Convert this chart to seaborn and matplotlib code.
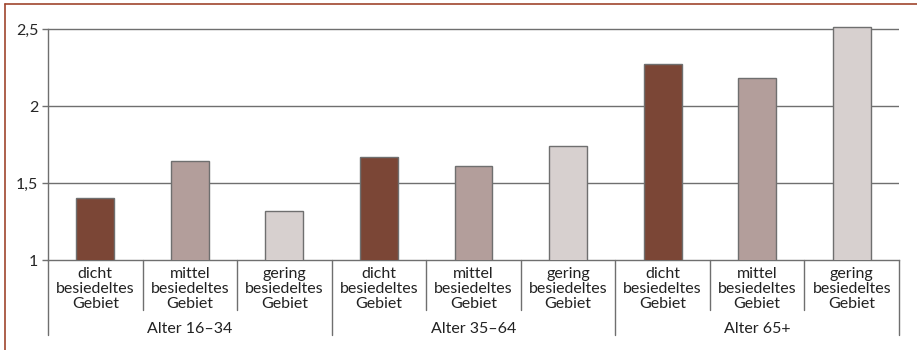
import matplotlib
matplotlib.use("Agg")
import matplotlib.pyplot as plt
import seaborn as sns
import pandas as pd
from matplotlib.lines import Line2D

# data
age_groups = ["Alter 16–34", "Alter 35–64", "Alter 65+"]
densities = ["dicht\nbesiedeltes\nGebiet", "mittel\nbesiedeltes\nGebiet", "gering\nbesiedeltes\nGebiet"]
values_16_34 = [1.40, 1.64, 1.32]
values_35_64 = [1.67, 1.61, 1.74]
values_65 = [2.27, 2.18, 2.51]
y_ticks = [1, 1.5, 2, 2.5]
y_tick_labels = ["1", "1,5", "2", "2,5"]
colors = ["#86402B", "#B79B97", "#D9CFCD"]

rows = []
for group, vals in zip(age_groups, [values_16_34, values_35_64, values_65]):
    for dens, v in zip(densities, vals):
        rows.append({"slot": f"{group} {dens}", "group": group, "density": dens, "value": v})
df = pd.DataFrame(rows)

sns.set_style("white")
plt.rcParams["font.family"] = ["Lato", "DejaVu Sans"]

W, H = 917, 350
y_top = 2.55
px_per_unit = (260 - 29) / 1.5
top_px = 260 - (y_top - 1) * px_per_unit
axes_h = 260 - top_px

fig = plt.figure(figsize=(9.17, 3.5), dpi=100)
ax = fig.add_axes([48 / W, 1 - 260 / H, (899 - 48) / W, axes_h / H])

sns.barplot(data=df, x="slot", y="value", hue="density", palette=colors,
            dodge=False, width=0.4, edgecolor="#6f6f6f", linewidth=1.0,
            legend=False, ax=ax, zorder=3)

ax.set_ylim(1, y_top)
ax.set_xlim(-0.5, len(df) - 0.5)
ax.set_yticks(y_ticks)
ax.set_yticklabels(y_tick_labels, fontsize=11.5)
ax.set_xticks([])
ax.set_xlabel("")
ax.set_ylabel("")
ax.tick_params(axis="y", length=4, width=1, color="#6f6f6f", pad=3, left=True)
for y in y_ticks[1:]:
    ax.axhline(y, color="#6f6f6f", lw=1.0, zorder=1)

for side in ["top", "right"]:
    ax.spines[side].set_visible(False)
ax.spines["left"].set_bounds(1, 2.5)
ax.spines["left"].set_color("#6f6f6f")
ax.spines["bottom"].set_color("#6f6f6f")
ax.spines["left"].set_linewidth(1.0)
ax.spines["bottom"].set_linewidth(1.0)

# category labels and separators below the axis (in pixel-based axes fractions)
n = len(df)
trans = ax.get_xaxis_transform()
def frac(px):
    return -(px - 260) / axes_h

for i, dens in enumerate(df["density"]):
    ax.text(i, frac(289), dens, transform=trans, ha="center", va="center",
            fontsize=11.5, linespacing=1.05, color="#222222")
for k in range(n + 1):
    x = k - 0.5
    y_end = frac(335) if k % 3 == 0 else frac(310)
    ax.add_line(Line2D([x, x], [0, y_end], transform=trans, color="#6f6f6f",
                       lw=1.0, clip_on=False))
for j, group in enumerate(age_groups):
    ax.text(3 * j + 1, frac(329), group, transform=trans,
            ha="center", va="center", fontsize=11.5, color="#222222")

# outer brown frame (top and left)
fig.add_artist(Line2D([5 / W, 1], [1 - 4 / H, 1 - 4 / H], color="#A0452E", lw=1.2))
fig.add_artist(Line2D([5 / W, 5 / W], [0, 1 - 4 / H], color="#A0452E", lw=1.2))

fig.savefig("out.png", dpi=100)
